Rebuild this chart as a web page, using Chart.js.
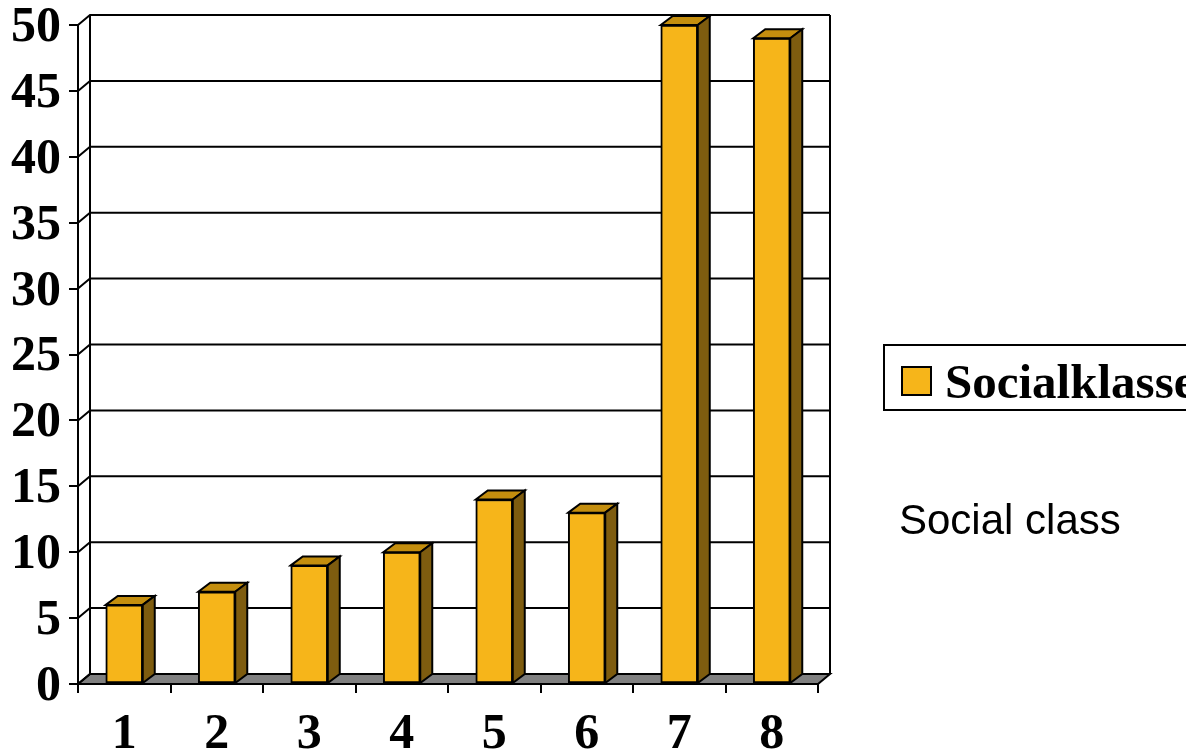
<!DOCTYPE html>
<html>
<head>
<meta charset="utf-8">
<script src="https://cdn.jsdelivr.net/npm/chart.js@4.4.1/dist/chart.umd.min.js"></script>
<style>
  html, body { margin: 0; padding: 0; background: #fff; overflow: hidden; }
  #wrap { position: relative; width: 1186px; height: 754px; }
</style>
</head>
<body>
<div id="wrap"><canvas id="chart" width="1186" height="754"></canvas></div>
<script>
// Categories (social class 1-8) and the column heights
const categories = ['1', '2', '3', '4', '5', '6', '7', '8'];
const shares = [6, 7, 9, 10, 14, 13, 50, 49];
const seriesName = 'Socialklasse';
const caption = 'Social class';
const yMin = 0;
const yMax = 50;
const yStep = 5;

// Colours of the three visible faces of each column and of the floor
const FRONT = '#F6B51A';
const TOP = '#C48E0E';
const SIDE = '#7E5C0F';
const FLOOR = '#808080';

// Depth of the back wall and of each column (pseudo-3D offsets)
const WALL_DX = 12, WALL_DY = -10;
const BAR_DX = 12, BAR_DY = -9;

const serifBold = { family: '"Liberation Serif", "Times New Roman", serif', size: 50, weight: 'bold' };

const box3d = {
  id: 'box3d',
  beforeDatasetsDraw(chart) {
    const { ctx, chartArea: a, scales: { y } } = chart;
    ctx.save();
    ctx.strokeStyle = '#000';
    ctx.lineWidth = 2;
    // floor
    ctx.beginPath();
    ctx.moveTo(a.left, a.bottom);
    ctx.lineTo(a.right, a.bottom);
    ctx.lineTo(a.right + WALL_DX, a.bottom + WALL_DY);
    ctx.lineTo(a.left + WALL_DX, a.bottom + WALL_DY);
    ctx.closePath();
    ctx.fillStyle = FLOOR;
    ctx.fill();
    ctx.stroke();
    // gridlines on the back wall, joined to the front axis along the side wall
    y.ticks.forEach(t => {
      const py = y.getPixelForValue(t.value);
      ctx.beginPath();
      ctx.moveTo(a.left, py);
      ctx.lineTo(a.left + WALL_DX, py + WALL_DY);
      ctx.lineTo(a.right + WALL_DX, py + WALL_DY);
      ctx.stroke();
    });
    // back wall edges
    ctx.beginPath();
    ctx.moveTo(a.left + WALL_DX, a.top + WALL_DY);
    ctx.lineTo(a.left + WALL_DX, a.bottom + WALL_DY);
    ctx.moveTo(a.right + WALL_DX, a.top + WALL_DY);
    ctx.lineTo(a.right + WALL_DX, a.bottom + WALL_DY);
    ctx.stroke();
    ctx.restore();
  },
  afterDatasetsDraw(chart) {
    const ctx = chart.ctx;
    const meta = chart.getDatasetMeta(0);
    ctx.save();
    ctx.strokeStyle = '#000';
    ctx.lineWidth = 2;
    meta.data.forEach(bar => {
      const { x, y, base, width } = bar.getProps(['x', 'y', 'base', 'width'], true);
      const l = x - width / 2, r = x + width / 2;
      // top face
      ctx.beginPath();
      ctx.moveTo(l, y);
      ctx.lineTo(l + BAR_DX, y + BAR_DY);
      ctx.lineTo(r + BAR_DX, y + BAR_DY);
      ctx.lineTo(r, y);
      ctx.closePath();
      ctx.fillStyle = TOP;
      ctx.fill();
      ctx.stroke();
      // side face
      ctx.beginPath();
      ctx.moveTo(r, y);
      ctx.lineTo(r + BAR_DX, y + BAR_DY);
      ctx.lineTo(r + BAR_DX, base + BAR_DY);
      ctx.lineTo(r, base);
      ctx.closePath();
      ctx.fillStyle = SIDE;
      ctx.fill();
      ctx.stroke();
    });
    ctx.restore();
  },
  afterDraw(chart) {
    const ctx = chart.ctx;
    const ds = chart.data.datasets[0];
    ctx.save();
    // legend frame
    ctx.strokeStyle = '#000';
    ctx.lineWidth = 2;
    ctx.strokeRect(884, 345, 320, 65);
    // legend swatch
    ctx.fillStyle = ds.backgroundColor;
    ctx.fillRect(902, 367, 29, 28);
    ctx.strokeRect(902, 367, 29, 28);
    // legend text
    ctx.fillStyle = '#000';
    ctx.textBaseline = 'alphabetic';
    ctx.font = 'bold 49px "Liberation Serif", "Times New Roman", serif';
    ctx.fillText(ds.label, 945, 398);
    // caption
    ctx.font = '42px "Liberation Sans", Arial, sans-serif';
    ctx.fillText(caption, 899, 534);
    ctx.restore();
  }
};

new Chart(document.getElementById('chart'), {
  type: 'bar',
  data: {
    labels: categories,
    datasets: [{
      label: seriesName,
      data: shares,
      backgroundColor: FRONT,
      borderColor: '#000',
      borderWidth: 2,
      borderSkipped: false,
      barThickness: 37,
      clip: false
    }]
  },
  options: {
    responsive: false,
    animation: false,
    devicePixelRatio: 1,
    layout: { padding: { top: 25, right: 368, left: 0, bottom: 0 } },
    plugins: { legend: { display: false }, tooltip: { enabled: false } },
    scales: {
      x: {
        grid: { offset: true, drawOnChartArea: false, color: '#000', lineWidth: 2, tickLength: 9 },
        border: { color: '#000', width: 2 },
        ticks: { font: serifBold, color: '#000', padding: 12, maxRotation: 0 },
        afterFit(s) { s.height = 70; s.paddingLeft = 0; s.paddingRight = 0; }
      },
      y: {
        min: yMin,
        max: yMax,
        grid: { drawOnChartArea: false, color: '#000', lineWidth: 2, tickLength: 9 },
        border: { color: '#000', width: 2 },
        ticks: { stepSize: yStep, font: serifBold, color: '#000', padding: 8, labelOffset: 3 },
        afterFit(s) { s.width = 78; s.paddingTop = 0; s.paddingBottom = 0; }
      }
    }
  },
  plugins: [box3d]
});
</script>
</body>
</html>
